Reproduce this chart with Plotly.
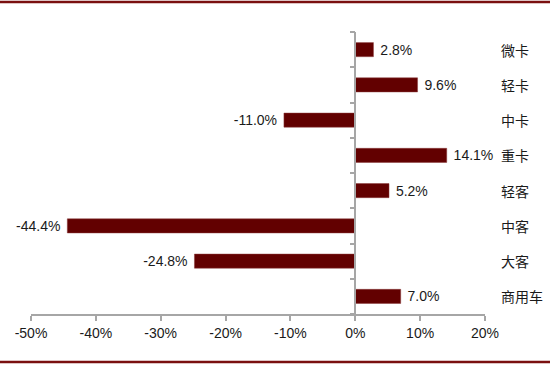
import plotly.graph_objects as go

categories = ["微卡", "轻卡", "中卡", "重卡", "轻客", "中客", "大客", "商用车"]
values = [2.8, 9.6, -11.0, 14.1, 5.2, -44.4, -24.8, 7.0]
x_ticks = [-50, -40, -30, -20, -10, 0, 10, 20]
x_tick_labels = [f"{t}%" for t in x_ticks]
value_labels = [(f" {v:.1f}%" if v >= 0 else f"{v:.1f}% ") for v in values]

idx = list(range(len(categories)))
bar_color = "#620000"
axis_color = "#a6a6a6"
font_main = "Liberation Sans, Arial, sans-serif"
font_cjk = "Noto Sans CJK SC, sans-serif"

fig = go.Figure()
fig.add_trace(go.Bar(
    x=values, y=idx, orientation="h",
    marker=dict(color=bar_color, line=dict(color="#8a3a3a", width=0.5)),
    width=0.4,
    text=value_labels, textposition="outside", cliponaxis=False,
    constraintext="none",
    textfont=dict(family=font_main, size=14, color="#1a1a1a"),
    hoverinfo="skip",
))

# vertical axis at x=0 with ticks between categories
fig.add_trace(go.Scatter(x=[None], y=[None], yaxis="y2", showlegend=False))

xmin, xmax = -50, 20
fig.update_layout(
    width=550, height=365,
    margin=dict(l=31, r=65, t=32, b=51, autoexpand=False),
    paper_bgcolor="white", plot_bgcolor="white",
    showlegend=False,
    bargap=0.6,
    xaxis=dict(
        range=[xmin, xmax], tickvals=x_ticks, ticktext=x_tick_labels,
        showgrid=False, zeroline=False, showline=True, linecolor=axis_color, linewidth=1.5,
        ticks="outside", ticklen=5, tickcolor=axis_color, tickwidth=1.5,
        tickfont=dict(family=font_main, size=14, color="#1a1a1a"),
        anchor="y", automargin=False, fixedrange=True,
    ),
    yaxis=dict(
        range=[len(categories) - 0.5, -0.5], showgrid=False, zeroline=False,
        showline=False, ticks="", showticklabels=False, automargin=False,
    ),
    yaxis2=dict(
        range=[len(categories) - 0.5, -0.5], overlaying="y", anchor="free",
        position=(0 - xmin) / (xmax - xmin),
        showgrid=False, zeroline=False, showline=True, linecolor=axis_color, linewidth=1.5,
        tickmode="array", tickvals=[i - 0.5 for i in range(len(categories) + 1)],
        ticks="outside", ticklen=5, tickcolor=axis_color, tickwidth=1.5,
        showticklabels=False, automargin=False,
    ),
)

for i, c in zip(idx, categories):
    fig.add_annotation(
        x=1, xref="paper", y=i, yref="y", text=c, showarrow=False,
        xanchor="left", xshift=14,
        font=dict(family=font_cjk, size=14, color="#1a1a1a"),
    )

# decorative border lines at top and bottom
fig.add_shape(type="line", xref="paper", yref="paper", x0=-1, x1=2,
              ysizemode="pixel", yanchor=1, y0=30, y1=30,
              line=dict(color="#7a1010", width=2.5))
fig.add_shape(type="line", xref="paper", yref="paper", x0=-1, x1=2,
              ysizemode="pixel", yanchor=0, y0=-48, y1=-48,
              line=dict(color="#7a1010", width=2.5))

fig.write_html("out.html", config={"displayModeBar": False},
               post_script="document.body.style.margin='0';")
